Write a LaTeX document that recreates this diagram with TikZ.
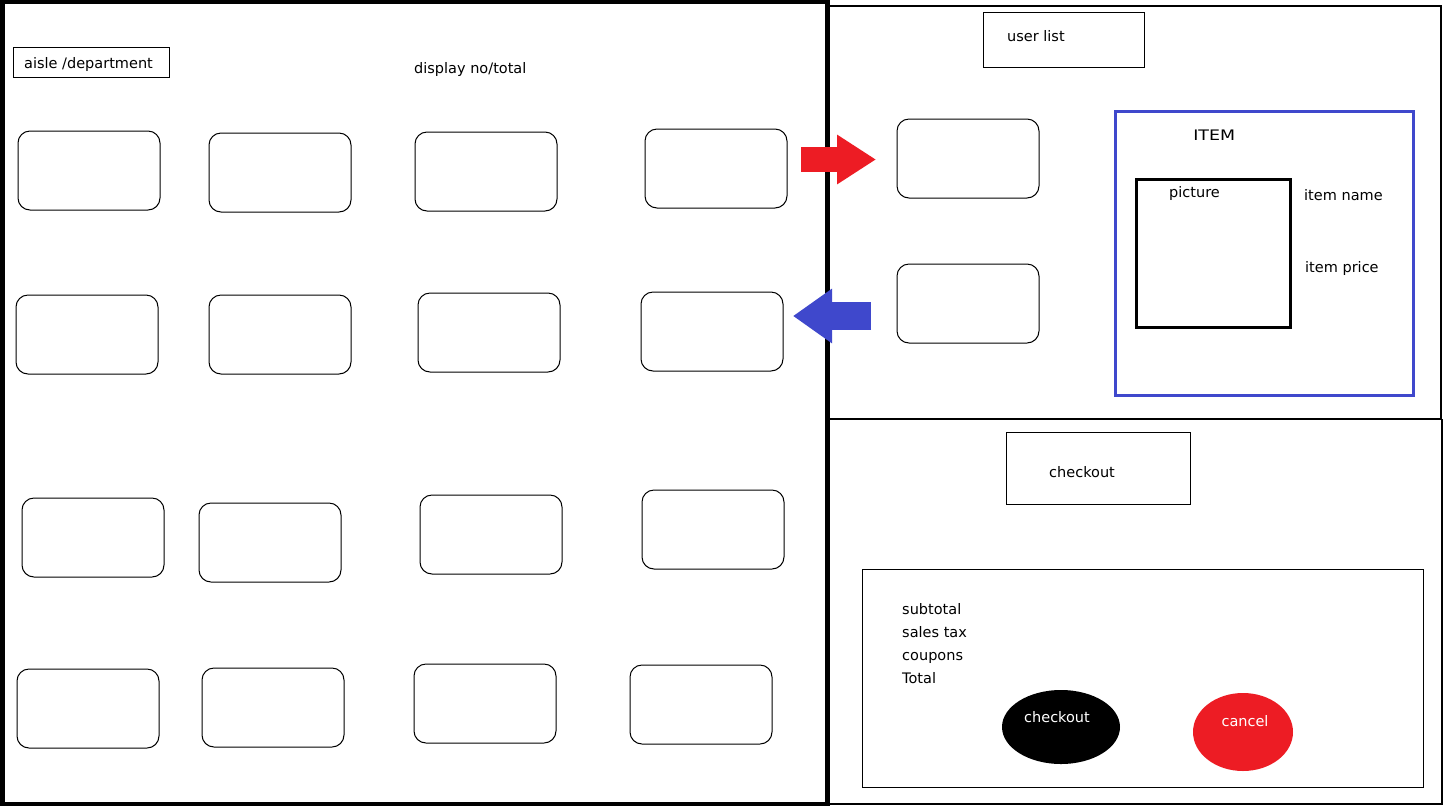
\documentclass[tikz,border=0pt]{standalone}
\usepackage{fontspec}
\setmainfont{DejaVu Sans}
\usetikzlibrary{arrows.meta,shapes.geometric}
\definecolor{pred}{HTML}{ED1C24}
\definecolor{pblue}{HTML}{3F48CC}
\begin{document}
\begin{tikzpicture}[x=1pt,y=-1pt,
  rbox/.style={draw=black,line width=1pt,rounded corners=12pt,minimum width=142pt,minimum height=79pt,inner sep=0pt},
  lbl/.style={font=\fontsize{14.5}{17}\selectfont,inner sep=0pt,anchor=base west},
  btxt/.style={font=\fontsize{14.5}{17}\selectfont,text=white,inner sep=0pt,anchor=base},
  thinbox/.style={draw=black,line width=1pt},
  panel/.style={draw=black,line width=1.6pt},
]
\useasboundingbox (0,0) rectangle (1444,807);
\fill[white] (0,0) rectangle (1444,807);
% right panels
\draw[panel] (828,6) rectangle (1441,418.5);
\draw[panel] (828,419.5) rectangle (1442,804);
% left panel
\draw[draw=black,line width=4.5pt] (2.5,2) rectangle (827.5,804);
% header
\node[thinbox,minimum width=156pt,minimum height=30pt,inner sep=0pt] (aisle) at (91,62) {};
\node[lbl] (aislet) at (24,68) {aisle /department};
\node[lbl] (disp) at (414,73) {display no/total};
% grid of rounded boxes
\node[rbox] (r11) at (89,170.5) {};
\node[rbox] (r12) at (280,172.5) {};
\node[rbox] (r13) at (486,171.5) {};
\node[rbox] (r14) at (716,168.5) {};
\node[rbox] (r21) at (87,334.5) {};
\node[rbox] (r22) at (280,334.5) {};
\node[rbox] (r23) at (489,332.5) {};
\node[rbox] (r24) at (712,331.5) {};
\node[rbox] (r31) at (93,537.5) {};
\node[rbox] (r32) at (270,542.5) {};
\node[rbox] (r33) at (491,534.5) {};
\node[rbox] (r34) at (713,529.5) {};
\node[rbox] (r41) at (88,708.5) {};
\node[rbox] (r42) at (273,707.5) {};
\node[rbox] (r43) at (485,703.5) {};
\node[rbox] (r44) at (701,704.5) {};
% user list
\node[thinbox,minimum width=161pt,minimum height=55pt,inner sep=0pt] (ulist) at (1063.5,39.5) {};
\node[lbl] (ulistt) at (1007,41) {user list};
\node[rbox] (u1) at (968,158.5) {};
\node[rbox] (u2) at (968,303.5) {};
% item panel
\node[draw=pblue,line width=3pt,minimum width=298pt,minimum height=284pt,inner sep=0pt] (item) at (1264,253) {};
\node[lbl,xscale=1.2] (itemt) at (1193,140) {ITEM};
\node[draw=black,line width=3pt,minimum width=154pt,minimum height=148pt,inner sep=0pt] (pic) at (1213,253) {};
\node[lbl] (pict) at (1169,197) {picture};
\node[lbl] (iname) at (1304,200) {item name};
\node[lbl] (iprice) at (1305,272) {item price};
% arrows
\coordinate (ra1) at (801,159.5);
\coordinate (ra2) at (876,159.5);
\draw[pred,line width=25pt,-{Triangle[length=39pt,width=47pt]}] (ra1) -- (ra2);
\coordinate (ba1) at (871,316);
\coordinate (ba2) at (793,316);
\draw[pblue,line width=28pt,-{Triangle[length=39pt,width=52pt]}] (ba1) -- (ba2);
% checkout area
\node[thinbox,minimum width=184pt,minimum height=72pt,inner sep=0pt] (cobox) at (1098,468) {};
\node[lbl] (cot) at (1049,477) {checkout};
\node[thinbox,minimum width=561pt,minimum height=218pt,inner sep=0pt] (sumbox) at (1142.5,678) {};
\node[lbl] (sub) at (902,614) {subtotal};
\node[lbl] (tax) at (902,637) {sales tax};
\node[lbl] (coup) at (902,660) {coupons};
\node[lbl] (tot) at (902,683) {Total};
\node[ellipse,fill=black,minimum width=118pt,minimum height=74pt,inner sep=0pt] (cobtn) at (1061,727) {};
\node[btxt] (cobtnt) at (1057,722) {checkout};
\node[ellipse,fill=pred,minimum width=100pt,minimum height=78pt,inner sep=0pt] (cbtn) at (1243,732) {};
\node[btxt] (cbtnt) at (1245,726) {cancel};
\end{tikzpicture}
\end{document}
